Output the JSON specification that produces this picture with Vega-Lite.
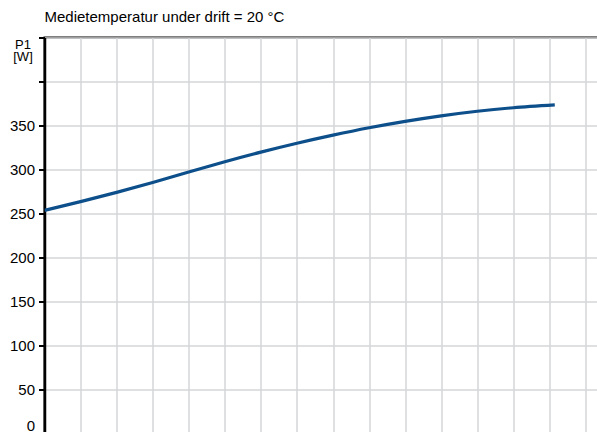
{
  "$schema": "https://vega.github.io/schema/vega-lite/v6.json",
  "autosize": "none",
  "width": 577,
  "height": 396,
  "padding": {"left": 44.5, "top": 37.5, "right": 0, "bottom": 0},
  "background": "white",
  "title": {
    "text": "Medietemperatur under drift = 20 °C",
    "anchor": "start",
    "frame": "group",
    "font": "Liberation Sans",
    "fontSize": 15,
    "fontWeight": "normal",
    "color": "#000000",
    "offset": 12,
    "dx": 0
  },
  "config": {
    "view": {"stroke": "#000000", "strokeWidth": 2},
    "font": "Liberation Sans"
  },
  "data": {
    "values": [
      {"q": 0, "p": 253.5},
      {"q": 1, "p": 263.5},
      {"q": 2, "p": 274},
      {"q": 3, "p": 285.3},
      {"q": 4, "p": 297.1},
      {"q": 5, "p": 308.8},
      {"q": 6, "p": 319.7},
      {"q": 7, "p": 329.8},
      {"q": 8, "p": 339},
      {"q": 9, "p": 347.4},
      {"q": 10, "p": 354.7},
      {"q": 11, "p": 361},
      {"q": 12, "p": 366.2},
      {"q": 13, "p": 370.2},
      {"q": 14.15, "p": 373.4}
    ]
  },
  "mark": {"type": "line", "color": "#0d4f8b", "strokeWidth": 3.2, "interpolate": "natural", "clip": true},
  "encoding": {
    "x": {
      "field": "q",
      "type": "quantitative",
      "scale": {"domain": [0, 16], "nice": false, "zero": false},
      "axis": {
        "title": null,
        "values": [0, 1, 2, 3, 4, 5, 6, 7, 8, 9, 10, 11, 12, 13, 14, 15, 16],
        "labels": false,
        "ticks": false,
        "domain": false,
        "grid": true,
        "gridColor": "#d3d6d9",
        "gridWidth": 1.5
      }
    },
    "y": {
      "field": "p",
      "type": "quantitative",
      "scale": {"domain": [0, 450], "nice": false},
      "axis": {
        "values": [0, 50, 100, 150, 200, 250, 300, 350, 400, 450],
        "labelExpr": "datum.value <= 350 ? datum.label : ''",
        "labelFont": "Liberation Sans",
        "labelFontSize": 15,
        "labelColor": "#000000",
        "labelPadding": 4,
        "labelFlush": true,
        "tickColor": "#000000",
        "tickSize": 6,
        "tickWidth": 2,
        "domainColor": "#000000",
        "domainWidth": 2.5,
        "grid": true,
        "gridColor": "#d3d6d9",
        "gridWidth": 1.5,
        "title": ["P1", "[W]"],
        "titleFont": "Liberation Sans",
        "titleFontSize": 13,
        "titleFontWeight": "normal",
        "titleColor": "#000000",
        "titleAngle": 0,
        "titleAlign": "center",
        "titleBaseline": "alphabetic",
        "titleX": -22,
        "titleY": 11,
        "titleLineHeight": 11.5
      }
    }
  }
}
